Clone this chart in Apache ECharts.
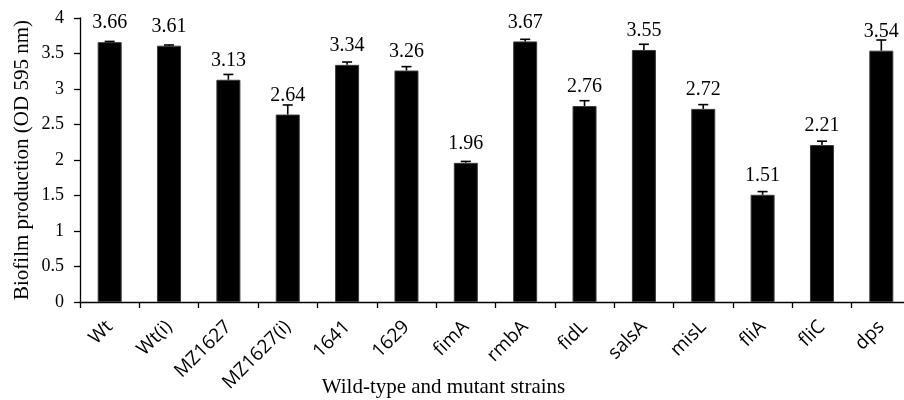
<!DOCTYPE html>
<html><head><meta charset="utf-8">
<script src="https://cdn.jsdelivr.net/npm/echarts@6/dist/echarts.min.js"></script>
<style>html,body{margin:0;padding:0;background:#fff}#c{width:904px;height:400px}</style>
</head><body><div id="c"></div>
<script>
const categories = ['Wt','Wt(i)','MZ1627','MZ1627(i)','1641','1629','fimA','rmbA','fidL','salsA','misL','fliA','fliC','dps'];
const values = [3.66,3.61,3.13,2.64,3.34,3.26,1.96,3.67,2.76,3.55,2.72,1.51,2.21,3.54];
const errors = [0.01,0.01,0.075,0.135,0.04,0.055,0.02,0.03,0.075,0.08,0.06,0.045,0.055,0.15];
const yMin = 0, yMax = 4, yStep = 0.5;
const xTitle = 'Wild-type and mutant strains';
const yTitle = 'Biofilm production (OD 595 nm)';

const serif = 'Liberation Serif';
const chart = echarts.init(document.getElementById('c'), null, {renderer: 'canvas'});
chart.setOption({
  animation: false,
  backgroundColor: '#fff',
  grid: {left: 80, right: -7, top: 18, bottom: 98, containLabel: false, outerBoundsMode: 'none'},
  xAxis: {
    type: 'category',
    data: categories,
    name: xTitle,
    nameLocation: 'middle',
    nameGap: 75,
    nameMoveOverlap: false,
    nameTextStyle: {fontFamily: serif, fontSize: 21, color: '#000', padding: [0, 104, 0, 0]},
    axisLine: {lineStyle: {color: '#000', width: 1.3}},
    axisTick: {show: true, length: 6, lineStyle: {color: '#000', width: 1.3}, alignWithLabel: false},
    axisLabel: {interval: 0, rotate: 45, margin: 22, fontFamily: 'Open Sans', fontSize: 19, color: '#000'}
  },
  yAxis: {
    type: 'value',
    min: yMin, max: yMax, interval: yStep,
    name: yTitle,
    nameLocation: 'middle',
    nameGap: 47,
    nameMoveOverlap: false,
    nameTextStyle: {fontFamily: serif, fontSize: 21, color: '#000'},
    splitLine: {show: false},
    axisLine: {show: true, lineStyle: {color: '#000', width: 1.3}},
    axisTick: {show: true, length: 6, lineStyle: {color: '#000', width: 1.3}},
    axisLabel: {margin: 16, fontFamily: serif, fontSize: 18, color: '#000'}
  },
  series: [
    {
      type: 'bar',
      data: values,
      barWidth: 24,
      itemStyle: {color: '#000', borderColor: '#3a3a3a', borderWidth: 1},
      label: {
        show: true, position: 'top', distance: 9,
        fontFamily: serif, fontSize: 20, color: '#000',
        formatter: p => values[p.dataIndex].toFixed(2)
      },
      z: 2
    },
    {
      type: 'custom',
      data: categories.map((c, i) => [i, values[i], errors[i]]),
      z: 3,
      renderItem: (params, api) => {
        const i = api.value(0), v = api.value(1), e = api.value(2);
        const base = api.coord([i, v]);
        const top = api.coord([i, v + e]);
        const st = {stroke: '#000', lineWidth: 1.6};
        return {type: 'group', children: [
          {type: 'line', shape: {x1: base[0], y1: base[1], x2: base[0], y2: top[1]}, style: st},
          {type: 'line', shape: {x1: base[0] - 5, y1: top[1], x2: base[0] + 5, y2: top[1]}, style: st}
        ]};
      }
    }
  ]
});
</script>
</body></html>
